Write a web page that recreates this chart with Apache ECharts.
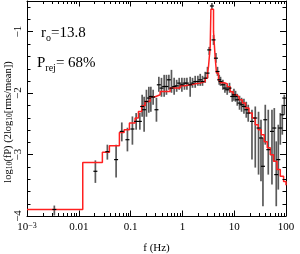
<!DOCTYPE html>
<html><head><meta charset="utf-8">
<script src="https://cdn.jsdelivr.net/npm/echarts@6/dist/echarts.min.js"></script>
<style>html,body{margin:0;padding:0;background:#fff}#c{width:300px;height:254px}</style>
</head><body><div id="c"></div>
<script>
// ---- data ----
const freq = [0.00337,0.0209,0.0356,0.0525,0.0676,0.0869,0.1084,0.128,0.1507,0.167,0.1824,0.2023,0.2249,0.246,0.2723,0.3155,0.3508,0.3945,0.4446,0.492,0.548,0.615,0.693,0.774,0.867,0.977,1.096,1.222,1.413,1.567,1.766,1.991,2.207,2.443,2.754,3.055,3.296,3.715,3.990,4.436,4.764,5.140,5.445,6.053,6.622,7.328,8.128,9.162,9.886,10.62,11.46,12.68,13.87,15.42,17.10,18.66,22.03,25.52,29.51,32.89,35.89,39.81,45.50,53.58,59.43,64.86,70.96,77.62,84.72,92.68];
const power = [-3.894,-3.272,-2.953,-3.082,-2.623,-2.758,-2.584,-2.460,-2.460,-2.217,-2.270,-2.136,-2.080,-2.054,-2.064,-2.270,-1.864,-1.918,-1.892,-1.892,-1.783,-1.918,-1.892,-1.881,-1.837,-1.864,-1.837,-1.837,-1.864,-1.837,-1.811,-1.811,-1.783,-1.811,-1.756,-1.674,-1.296,-0.581,-1.133,-1.431,-1.648,-1.783,-1.811,-1.864,-1.918,-1.945,-1.918,-2.054,-2.027,-2.054,-2.108,-2.162,-2.189,-2.217,-2.270,-2.324,-2.460,-2.405,-2.568,-2.730,-3.191,-2.433,-2.920,-2.623,-2.568,-3.326,-3.082,-2.568,-2.352,-2.080];
const errLow = [-3.992,-3.461,-3.082,-3.375,-2.785,-2.948,-2.839,-2.595,-2.595,-2.384,-2.628,-2.384,-2.319,-2.303,-2.189,-2.465,-1.978,-2.059,-2.059,-2.027,-1.945,-1.994,-2.027,-1.978,-1.945,-1.978,-1.945,-1.945,-2.059,-1.913,-1.913,-1.881,-1.881,-1.881,-1.832,-1.751,-1.377,-0.630,-1.215,-1.507,-1.718,-1.864,-1.881,-1.945,-1.994,-2.027,-1.994,-2.140,-2.124,-2.140,-2.205,-2.270,-2.303,-2.335,-2.400,-2.465,-3.082,-3.212,-3.326,-3.435,-3.841,-2.839,-3.326,-3.489,-3.115,-3.841,-3.570,-2.839,-2.676,-2.352];
const errHigh = [-3.830,-3.094,-2.839,-2.839,-2.477,-2.563,-2.379,-2.324,-2.319,-2.027,-2.059,-1.945,-1.897,-1.897,-1.945,-2.076,-1.734,-1.751,-1.702,-1.702,-1.702,-1.621,-1.751,-1.783,-1.751,-1.751,-1.751,-1.751,-1.734,-1.751,-1.718,-1.718,-1.686,-1.718,-1.653,-1.572,-1.247,-0.532,-1.052,-1.345,-1.572,-1.702,-1.734,-1.783,-1.832,-1.864,-1.832,-1.962,-1.929,-1.962,-2.011,-2.043,-2.076,-2.092,-2.140,-2.189,-2.270,-2.217,-2.303,-2.433,-2.725,-2.189,-2.270,-2.270,-2.243,-2.785,-2.514,-2.324,-2.189,-2.027];
const modelFreq = [0.001,0.01192,0.02852,0.03897,0.06081,0.07493,0.09489,0.1223,0.1416,0.1647,0.1909,0.2384,0.2978,0.3720,0.5804,0.9058,1.131,1.413,1.766,2.206,2.755,3.052,3.192,3.442,3.551,3.988,4.300,4.557,4.982,5.444,6.333,7.336,8.383,9.581,10.95,12.35,14.30,16.56,19.27,22.32,25.51,29.14,33.31,38.07,43.51,49.72,57.58,66.99,77.59,89.86,100];
const modelPower = [-3.895,-3.131,-2.964,-2.855,-2.639,-2.595,-2.486,-2.405,-2.298,-2.205,-2.136,-2.059,-2.027,-1.973,-1.918,-1.881,-1.864,-1.848,-1.837,-1.811,-1.756,-1.669,-1.567,-1.242,-0.635,-0.999,-1.431,-1.674,-1.783,-1.832,-1.848,-1.897,-1.978,-2.027,-2.059,-2.108,-2.162,-2.243,-2.324,-2.405,-2.514,-2.595,-2.676,-2.790,-2.888,-3.001,-3.110,-3.245,-3.354,-3.440,-3.500];
const xTickValues = [0.001,0.01,0.1,1,10,100];
const xTickLabels = ['{b|10}{sup|−3}','{b|0.01}','{b|0.1}','{b|1}','{b|10}','{b|100}'];
const yTickValues = [-4,-3,-2,-1];
const yTickLabels = ['−4','−3','−2','−1'];
const X_MIN = 0.001, X_MAX = 100, Y_MIN = -4, Y_MAX = -0.5;

// minor tick positions (log decades 2..9, and 0.2 steps in y)
const xMinor = [];
for (let d = -3; d < 2; d++) for (let m = 2; m <= 9; m++) xMinor.push(m * Math.pow(10, d));
const yMinor = [];
for (let k = 0; k <= 17; k++) { const v = Math.round((Y_MIN + 0.2 * k) * 10) / 10; if (Math.abs(v - Math.round(v)) > 1e-6 && v < Y_MAX) yMinor.push(v); }

const FONT = 'Liberation Serif';
const chart = echarts.init(document.getElementById('c'), null, {renderer: 'canvas'});

function xLabel(v) {
  for (let i = 0; i < xTickValues.length; i++) if (Math.abs(Math.log10(v) - Math.log10(xTickValues[i])) < 1e-6) return xTickLabels[i];
  return '';
}
function yLabel(v) {
  for (let i = 0; i < yTickValues.length; i++) if (Math.abs(v - yTickValues[i]) < 1e-6) return yTickLabels[i];
  return '';
}

const axisCommon = {
  axisLine: {show: true, onZero: false, lineStyle: {color: '#000', width: 1}},
  splitLine: {show: false},
};

chart.setOption({
  animation: false,
  textStyle: {fontFamily: FONT, color: '#000'},
  grid: {left: 27, right: 14, top: 1, bottom: 38, outerBoundsMode: 'none'},
  xAxis: [
    Object.assign({}, axisCommon, {
      type: 'log', logBase: 10, min: X_MIN, max: X_MAX, position: 'bottom',
      axisTick: {show: true, inside: true, length: 5.5, lineStyle: {color: '#000'}},
      axisLabel: {show: true, margin: 6, formatter: xLabel, fontFamily: FONT, fontSize: 11, color: '#000',
        rich: {b: {fontFamily: FONT, fontSize: 11, color: '#000'}, sup: {fontFamily: FONT, fontSize: 8, color: '#000', verticalAlign: 'top', lineHeight: 8}}},
      name: 'f (Hz)', nameLocation: 'middle', nameGap: 27,
      nameTextStyle: {fontFamily: FONT, fontSize: 11, color: '#000'}
    }),
    Object.assign({}, axisCommon, {
      type: 'log', logBase: 10, min: X_MIN, max: X_MAX, position: 'top',
      axisTick: {show: true, inside: true, length: 5.5, lineStyle: {color: '#000'}},
      axisLabel: {show: false}
    })
  ],
  yAxis: [
    Object.assign({}, axisCommon, {
      type: 'value', min: Y_MIN, max: Y_MAX, interval: 1, position: 'left',
      axisTick: {show: true, inside: true, length: 6, lineStyle: {color: '#000'}},
      axisLabel: {show: true, rotate: 90, margin: 3, formatter: yLabel, fontFamily: FONT, fontSize: 11, color: '#000'}
    }),
    Object.assign({}, axisCommon, {
      type: 'value', min: Y_MIN, max: Y_MAX, interval: 1, position: 'right',
      axisTick: {show: true, inside: true, length: 6, lineStyle: {color: '#000'}},
      axisLabel: {show: false}
    })
  ],
  graphic: [
    {type: 'text', x: 8, y: 122, rotation: Math.PI / 2,
      style: {text: '{n|log}{s|10}{n|(fP) (2log}{s|10}{n|[rms/mean])}', align: 'center', verticalAlign: 'middle',
        rich: {n: {fontFamily: FONT, fontSize: 10.5, lineHeight: 13, verticalAlign: 'middle', fill: '#000'},
               s: {fontFamily: FONT, fontSize: 7.5, lineHeight: 8, verticalAlign: 'bottom', fill: '#000'}}}},
    {type: 'text', x: 41, y: 33.5,
      style: {text: '{n|r}{s|o}{n|=13.8}', align: 'left', verticalAlign: 'middle',
        rich: {n: {fontFamily: FONT, fontSize: 15, lineHeight: 19, verticalAlign: 'middle', fill: '#000'},
               s: {fontFamily: FONT, fontSize: 10, lineHeight: 10, verticalAlign: 'bottom', fill: '#000'}}}},
    {type: 'text', x: 37, y: 63.5,
      style: {text: '{n|P}{s|rej}{n|= 68%}', align: 'left', verticalAlign: 'middle',
        rich: {n: {fontFamily: FONT, fontSize: 15, lineHeight: 19, verticalAlign: 'middle', fill: '#000'},
               s: {fontFamily: FONT, fontSize: 10, lineHeight: 10, verticalAlign: 'bottom', fill: '#000'}}}}
  ],
  series: [
    { // error bars
      type: 'custom', xAxisIndex: 0, yAxisIndex: 0, z: 2, silent: true,
      data: freq.map((f, i) => [f, errLow[i], errHigh[i]]),
      encode: {x: 0, y: [1, 2]},
      renderItem(params, api) {
        const a = api.coord([api.value(0), api.value(1)]);
        const b = api.coord([api.value(0), api.value(2)]);
        return {type: 'line', shape: {x1: a[0], y1: a[1], x2: b[0], y2: b[1]}, style: {stroke: '#5a5a5a', lineWidth: 1.7}};
      }
    },
    { // model
      type: 'line', xAxisIndex: 0, yAxisIndex: 0, z: 3, step: 'end', showSymbol: false, symbol: 'none', silent: true,
      data: modelFreq.map((f, i) => [f, modelPower[i]]),
      lineStyle: {color: '#ff2020', width: 1.5}
    },
    { // data point centres
      type: 'custom', xAxisIndex: 0, yAxisIndex: 0, z: 4, silent: true,
      data: freq.map((f, i) => [f, power[i]]),
      encode: {x: 0, y: 1},
      renderItem(params, api) {
        const p = api.coord([api.value(0), api.value(1)]);
        return {type: 'line', shape: {x1: p[0] - 2, y1: p[1], x2: p[0] + 2, y2: p[1]}, style: {stroke: '#000', lineWidth: 1.2}};
      }
    },
    { // x minor ticks (bottom and top)
      type: 'custom', xAxisIndex: 0, yAxisIndex: 0, z: 5, silent: true,
      data: xMinor.map(f => [f, Y_MIN]),
      encode: {x: 0, y: 1},
      renderItem(params, api) {
        const f = api.value(0);
        const b = api.coord([f, Y_MIN]), t = api.coord([f, Y_MAX]);
        const x = Math.round(b[0]) + 0.5;
        return {type: 'group', children: [
          {type: 'line', shape: {x1: x, y1: b[1], x2: x, y2: b[1] - 3}, style: {stroke: '#000', lineWidth: 1}},
          {type: 'line', shape: {x1: x, y1: t[1], x2: x, y2: t[1] + 3}, style: {stroke: '#000', lineWidth: 1}}
        ]};
      }
    },
    { // y minor ticks (left and right)
      type: 'custom', xAxisIndex: 0, yAxisIndex: 0, z: 5, silent: true,
      data: yMinor.map(v => [X_MIN, v]),
      encode: {x: 0, y: 1},
      renderItem(params, api) {
        const v = api.value(1);
        const l = api.coord([X_MIN, v]), r = api.coord([X_MAX, v]);
        const y = Math.round(l[1]) + 0.5;
        return {type: 'group', children: [
          {type: 'line', shape: {x1: l[0], y1: y, x2: l[0] + 3.5, y2: y}, style: {stroke: '#000', lineWidth: 1}},
          {type: 'line', shape: {x1: r[0], y1: y, x2: r[0] - 3.5, y2: y}, style: {stroke: '#000', lineWidth: 1}}
        ]};
      }
    }
  ]
});
</script></body></html>
